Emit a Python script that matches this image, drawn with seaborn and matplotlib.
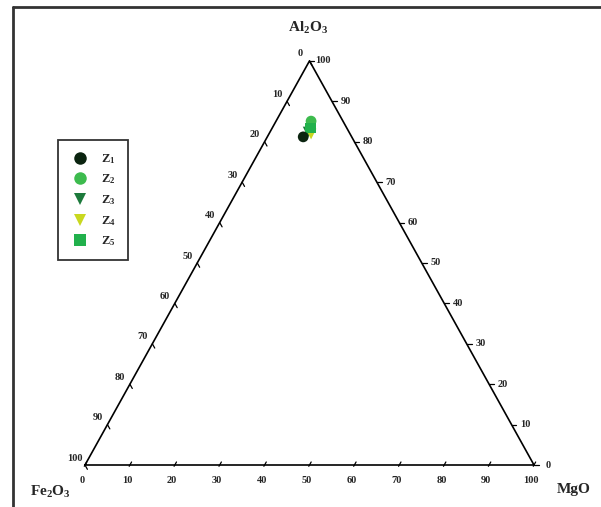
import numpy as np
import pandas as pd
import seaborn as sns
import matplotlib.pyplot as plt
from matplotlib.lines import Line2D

# ternary data (wt %)
groups = ['Z1', 'Z2', 'Z3', 'Z4', 'Z5']
al2o3 = [81.2, 85.1, 82.4, 81.9, 83.4]
mgo = [8.0, 7.8, 8.5, 9.4, 8.6]
fe2o3 = [10.8, 7.1, 9.1, 8.7, 8.0]
ticks = list(range(0, 101, 10))

colors = {'Z1': '#0b2410', 'Z2': '#3dbb4e', 'Z3': '#1d7a3c', 'Z4': '#c9d820', 'Z5': '#22b14c'}
markers = {'Z1': 'o', 'Z2': 'o', 'Z3': 'v', 'Z4': 'v', 'Z5': 's'}
draw_order = ['Z3', 'Z4', 'Z2', 'Z5', 'Z1']

H = 0.9  # vertical stretch of the triangle


def to_xy(a, m, f):
    t = a + m + f
    return (m + a / 2) / t * 100, a / t * 100 * H


df = pd.DataFrame({'group': groups, 'al': al2o3, 'mg': mgo, 'fe': fe2o3})
df['x'], df['y'] = to_xy(df['al'], df['mg'], df['fe'])
df = df.set_index('group').loc[draw_order].reset_index()

sns.set_style('white')
plt.rcParams['font.family'] = ['Liberation Serif', 'DejaVu Serif']
plt.rcParams['mathtext.fontset'] = 'custom'
plt.rcParams['mathtext.rm'] = 'Liberation Serif:bold'
plt.rcParams['mathtext.default'] = 'regular'

fig = plt.figure(figsize=(6.01, 5.07), dpi=100)
ax = fig.add_axes([0, 0, 1, 1])
px = 4.49
ax.set_xlim(-85 / px, (601 - 85) / px)
ax.set_ylim(-(507 - 465) / px, 465 / px)
ax.axis('off')

# figure frame (only left/top visible in the crop)
fig.add_artist(Line2D([13 / 601, 13 / 601], [0, 1 - 7 / 507], transform=fig.transFigure,
                      color='#333333', lw=2))
fig.add_artist(Line2D([13 / 601, 1], [1 - 7 / 507, 1 - 7 / 507], transform=fig.transFigure,
                      color='#333333', lw=2))

# triangle
ax.plot([0, 100, 50, 0], [0, 0, 100 * H, 0], color='black', lw=1.2)

tl = 1.1
d_left = np.array([50, 90]) / np.hypot(50, 90)
d_right = np.array([50, -90]) / np.hypot(50, 90)
tk = dict(fontsize=7.5, fontweight='bold', ha='center', va='center')
for v in ticks:
    # bottom axis: MgO
    bx, by = v, 0
    ax.plot([bx - 0.3 * tl * d_left[0], bx + 0.7 * tl * d_left[0]],
            [by - 0.3 * tl * d_left[1], by + 0.7 * tl * d_left[1]], color='black', lw=0.9)
    ax.annotate(str(v), (bx, by), xytext=(-2, -11), textcoords='offset points', **tk)
    # left axis: Fe2O3, 0 at top
    lx, ly = to_xy(100 - v, 0, v)
    ax.plot([lx, lx + tl * d_right[0]], [ly, ly + tl * d_right[1]], color='black', lw=0.9)
    ax.annotate(str(v), (lx, ly), xytext=(-7, 5), textcoords='offset points', **tk)
    # right axis: Al2O3, 0 at MgO corner
    rx, ry = to_xy(v, 100 - v, 0)
    ax.plot([rx, rx + tl], [ry, ry], color='black', lw=0.9)
    ax.annotate(str(v), (rx, ry), xytext=(10, 0), textcoords='offset points', **tk)

sns.scatterplot(data=df, x='x', y='y', hue='group', style='group', hue_order=groups,
                style_order=groups, palette=colors, markers=markers, s=60,
                edgecolor='none', ax=ax, legend=True)

handles, labels = ax.get_legend_handles_labels()
for h in handles:
    h.set_markersize(9)
    h.set_markeredgewidth(0)
leg = ax.legend(handles, [r'Z$_%s$' % g[1] for g in labels], loc='upper left',
                bbox_to_anchor=(58 / 601, 1 - 140 / 507), bbox_transform=fig.transFigure,
                borderaxespad=0, frameon=True, fancybox=False,
                labelspacing=0.55, handletextpad=0.9, borderpad=0.95, handlelength=1.6,
                prop={'weight': 'bold', 'size': 9})
leg.get_frame().set_edgecolor('black')
leg.get_frame().set_linewidth(1.3)

title = dict(fontsize=11, fontweight='bold', ha='center', va='center')
fig.text(308 / 601, 1 - 28 / 507, r'Al$_2$O$_3$', **title)
fig.text(50 / 601, 1 - 492 / 507, r'Fe$_2$O$_3$', **title)
fig.text(574 / 601, 1 - 490 / 507, 'MgO', **title)

fig.savefig('out.png', dpi=100)
